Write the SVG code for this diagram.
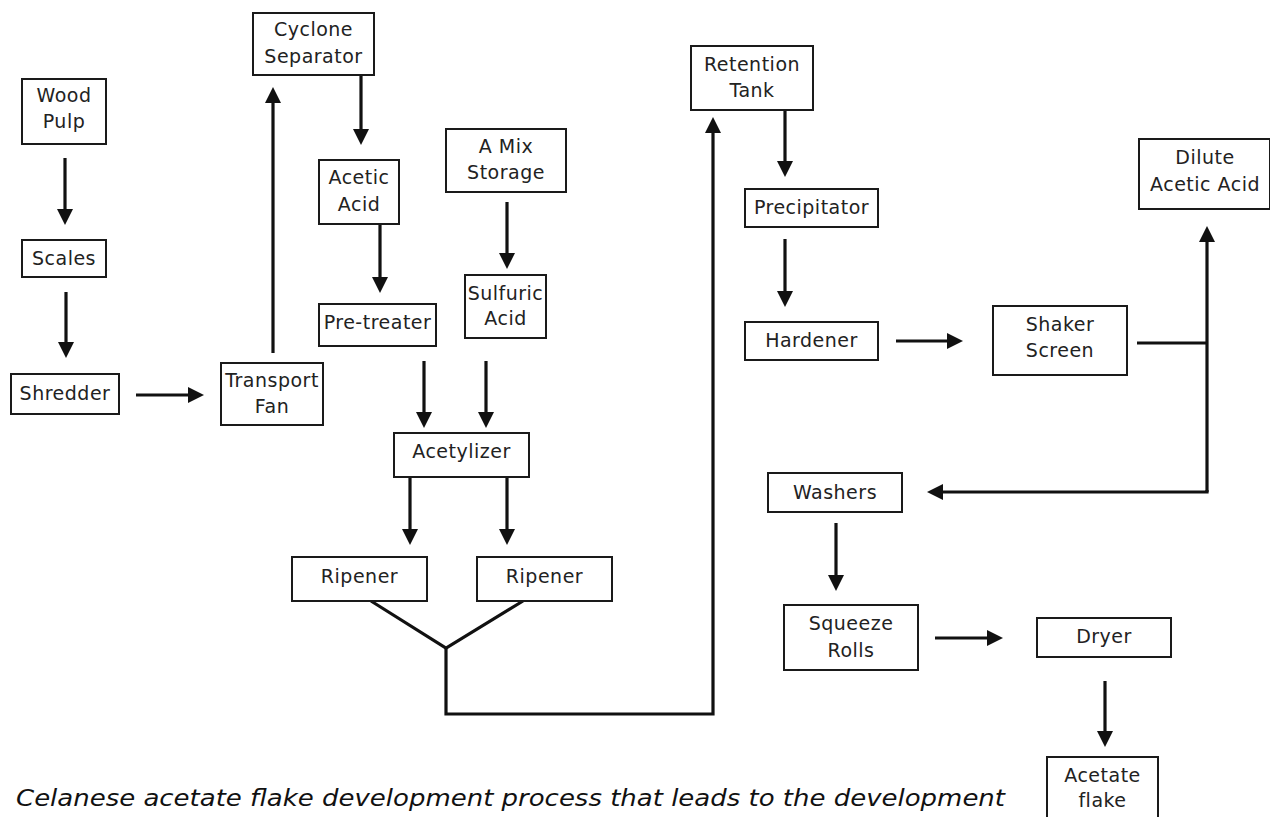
<svg xmlns="http://www.w3.org/2000/svg" width="1270" height="817" viewBox="0 0 1270 817">
<defs>
<style>
.box{fill:#fff;stroke:#1a1a1a;stroke-width:2}
.lbl{font-family:"DejaVu Sans","Liberation Sans",sans-serif;font-size:19px;fill:#222;text-anchor:middle;letter-spacing:0.5px}
.ln{fill:none;stroke:#111;stroke-width:3.2}
.cap{font-family:"DejaVu Sans","Liberation Sans",sans-serif;font-size:23px;font-style:italic;fill:#111}
</style>
<marker id="ah" viewBox="0 0 16 16" markerWidth="16" markerHeight="16" refX="5" refY="8" orient="auto" markerUnits="userSpaceOnUse">
<path d="M0,0 L16,8 L0,16 z" fill="#111"/>
</marker>
</defs>
<rect width="1270" height="817" fill="#fff"/>

<g id="connectors">
<line class="ln" x1="65" y1="158" x2="65" y2="214" marker-end="url(#ah)"/>
<line class="ln" x1="66" y1="292" x2="66" y2="347" marker-end="url(#ah)"/>
<line class="ln" x1="136" y1="395" x2="193" y2="395" marker-end="url(#ah)"/>
<line class="ln" x1="273" y1="353" x2="273" y2="98" marker-end="url(#ah)"/>
<line class="ln" x1="361" y1="75" x2="361" y2="134" marker-end="url(#ah)"/>
<line class="ln" x1="380" y1="224" x2="380" y2="282" marker-end="url(#ah)"/>
<line class="ln" x1="507" y1="202" x2="507" y2="258" marker-end="url(#ah)"/>
<line class="ln" x1="424" y1="361" x2="424" y2="417" marker-end="url(#ah)"/>
<line class="ln" x1="486" y1="361" x2="486" y2="417" marker-end="url(#ah)"/>
<line class="ln" x1="410" y1="477" x2="410" y2="534" marker-end="url(#ah)"/>
<line class="ln" x1="507" y1="477" x2="507" y2="534" marker-end="url(#ah)"/>
<polyline class="ln" points="371,601 446,648 523,601"/>
<polyline class="ln" points="446,648 446,714 713,714 713,128" marker-end="url(#ah)"/>
<line class="ln" x1="785" y1="110" x2="785" y2="166" marker-end="url(#ah)"/>
<line class="ln" x1="785" y1="239" x2="785" y2="296" marker-end="url(#ah)"/>
<line class="ln" x1="896" y1="341" x2="952" y2="341" marker-end="url(#ah)"/>
<line class="ln" x1="1137" y1="343" x2="1207" y2="343"/>
<line class="ln" x1="1207" y1="492" x2="1207" y2="237" marker-end="url(#ah)"/>
<polyline class="ln" points="1207,490 1207,492 938,492" marker-end="url(#ah)"/>
<line class="ln" x1="836" y1="523" x2="836" y2="580" marker-end="url(#ah)"/>
<line class="ln" x1="935" y1="638" x2="992" y2="638" marker-end="url(#ah)"/>
<line class="ln" x1="1105" y1="681" x2="1105" y2="736" marker-end="url(#ah)"/>
</g>

<g id="cyclone-separator"><rect class="box" x="253" y="13" width="121" height="62"/><text class="lbl" x="313.5" y="36">Cyclone</text><text class="lbl" x="313.5" y="63">Separator</text></g>
<g id="wood-pulp"><rect class="box" x="22" y="79" width="84" height="65"/><text class="lbl" x="64" y="102">Wood</text><text class="lbl" x="64" y="128">Pulp</text></g>
<g id="scales"><rect class="box" x="22" y="240" width="84" height="37"/><text class="lbl" x="64" y="265">Scales</text></g>
<g id="shredder"><rect class="box" x="11" y="374" width="108" height="40"/><text class="lbl" x="65" y="400">Shredder</text></g>
<g id="transport-fan"><rect class="box" x="221" y="363" width="102" height="62"/><text class="lbl" x="272" y="387">Transport</text><text class="lbl" x="272" y="413">Fan</text></g>
<g id="acetic-acid"><rect class="box" x="319" y="160" width="80" height="64"/><text class="lbl" x="359" y="184">Acetic</text><text class="lbl" x="359" y="211">Acid</text></g>
<g id="pre-treater"><rect class="box" x="319" y="304" width="117" height="42"/><text class="lbl" x="377.5" y="329">Pre-treater</text></g>
<g id="a-mix-storage"><rect class="box" x="446" y="129" width="120" height="63"/><text class="lbl" x="506" y="153">A Mix</text><text class="lbl" x="506" y="179">Storage</text></g>
<g id="sulfuric-acid"><rect class="box" x="465" y="275" width="81" height="63"/><text class="lbl" x="505.5" y="300">Sulfuric</text><text class="lbl" x="505.5" y="325">Acid</text></g>
<g id="acetylizer"><rect class="box" x="394" y="433" width="135" height="44"/><text class="lbl" x="461.5" y="458">Acetylizer</text></g>
<g id="ripener-1"><rect class="box" x="292" y="557" width="135" height="44"/><text class="lbl" x="359.5" y="583">Ripener</text></g>
<g id="ripener-2"><rect class="box" x="477" y="557" width="135" height="44"/><text class="lbl" x="544.5" y="583">Ripener</text></g>
<g id="retention-tank"><rect class="box" x="691" y="46" width="122" height="64"/><text class="lbl" x="752" y="71">Retention</text><text class="lbl" x="752" y="97">Tank</text></g>
<g id="precipitator"><rect class="box" x="745" y="189" width="133" height="38"/><text class="lbl" x="811.5" y="214">Precipitator</text></g>
<g id="hardener"><rect class="box" x="745" y="322" width="133" height="38"/><text class="lbl" x="811.5" y="347">Hardener</text></g>
<g id="shaker-screen"><rect class="box" x="993" y="306" width="134" height="69"/><text class="lbl" x="1060" y="331">Shaker</text><text class="lbl" x="1060" y="357">Screen</text></g>
<g id="dilute-acetic-acid"><rect class="box" x="1139" y="139" width="131" height="70"/><text class="lbl" x="1205" y="164">Dilute</text><text class="lbl" x="1205" y="191">Acetic Acid</text></g>
<g id="washers"><rect class="box" x="768" y="473" width="134" height="39"/><text class="lbl" x="835" y="499">Washers</text></g>
<g id="squeeze-rolls"><rect class="box" x="784" y="605" width="134" height="65"/><text class="lbl" x="851" y="630">Squeeze</text><text class="lbl" x="851" y="657">Rolls</text></g>
<g id="dryer"><rect class="box" x="1037" y="618" width="134" height="39"/><text class="lbl" x="1104" y="643">Dryer</text></g>
<g id="acetate-flake"><rect class="box" x="1047" y="757" width="111" height="66"/><text class="lbl" x="1102.5" y="782">Acetate</text><text class="lbl" x="1102.5" y="807">flake</text></g>

<text class="cap" x="16" y="806" textLength="989" lengthAdjust="spacingAndGlyphs">Celanese acetate flake development process that leads to the development</text>
</svg>
